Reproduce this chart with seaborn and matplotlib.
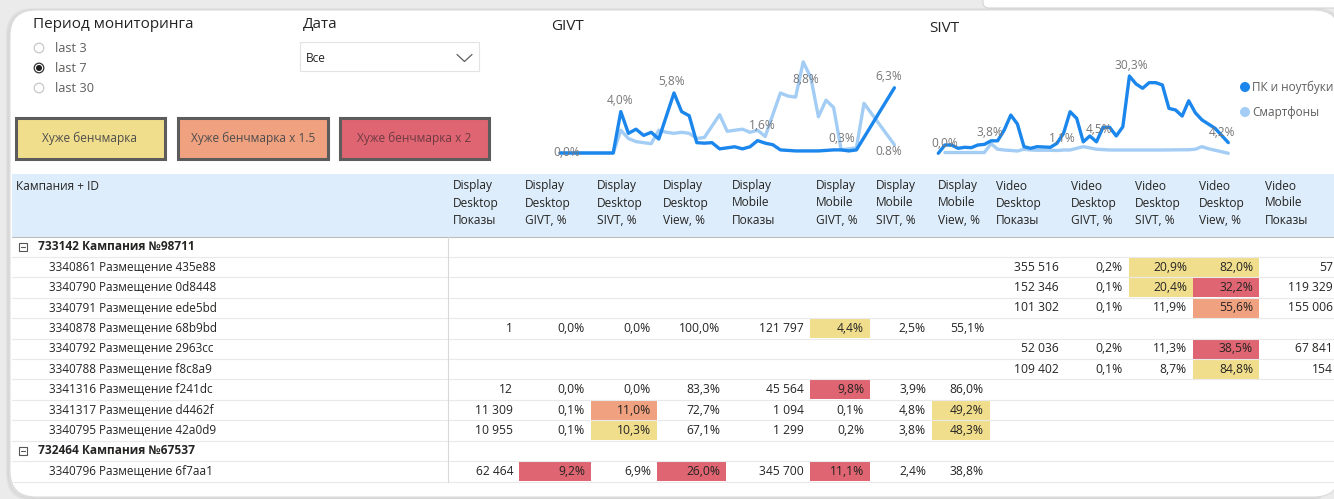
import matplotlib
matplotlib.use("Agg")
import matplotlib.pyplot as plt
from matplotlib.patches import FancyBboxPatch, Rectangle, Circle
import seaborn as sns
import pandas as pd

# ---------------- data ----------------
devices = ["ПК и ноутбуки", "Смартфоны"]

givt_pc_day = [0, 1, 2, 3, 4, 5, 6, 7, 8, 9, 10, 11, 12, 13, 15, 16, 17, 18, 19, 20, 21, 22, 23,
               24, 25, 26, 27, 28, 29, 30, 31, 32, 33, 34, 35, 36, 37, 38, 39, 44]
givt_pc_val = [0, 0, 0, 0, 0, 0, 0, 0, 4.0, 1.9, 2.3, 1.7, 2.0, 1.35, 5.8, 4.0, 3.6, 1.0, 0.95, 1.0,
               0.4, 0.5, 0.6, 0.4, 0.6, 1.2, 0.95, 0.8, 0.3, 0.25, 0.2, 0.2, 0.2, 0.2, 0.25, 0.3, 0.3,
               0.2, 0.3, 6.3]
givt_sp_day = [0, 7, 8, 9, 10, 11, 12, 13, 14, 15, 16, 17, 18, 19, 20, 21, 22, 23, 24, 25, 26, 27,
               28, 29, 30, 31, 32, 33, 34, 35, 36, 37, 38, 39, 40, 44]
givt_sp_val = [0, 0, 2.2, 1.4, 1.1, 1.0, 0.9, 2.2, 2.0, 1.9, 2.0, 1.9, 1.4, 1.5, 2.6, 3.7, 2.1, 2.2,
               2.3, 2.0, 2.2, 1.6, 3.7, 5.8, 5.5, 5.4, 8.8, 7.3, 3.5, 5.1, 4.4, 0.3, 0.4, 0.5, 4.8, 0.8]

sivt_pc_day = [0, 1, 2, 3, 4, 5, 6, 7, 8, 9, 10, 11, 12, 13, 14, 15, 17, 18, 19, 20, 21, 22, 23, 24,
               25, 26, 27, 28, 29, 30, 31, 32, 33, 34, 35, 36, 37, 38, 39, 40, 42, 44]
sivt_pc_val = [0, 3.25, 3.25, 1.96, 2.35, 2.2, 3.25, 3.5, 4.9, 4.9, 9.1, 15.0, 11.5, 2.6, 1.96, 2.6,
               2.35, 3.9, 7.8, 16.3, 13.7, 4.5, 6.8, 4.5, 10.2, 10.2, 6.8, 10.4, 30.3, 27.2, 25.5,
               27.7, 27.7, 26.8, 17.6, 17.0, 14.6, 20.6, 15.9, 13.1, 9.8, 4.2]
sivt_sp_day = [1, 7, 8, 9, 10, 12, 13, 14, 15, 17, 18, 19, 20, 22, 24, 26, 30, 34, 38, 39, 40, 41, 44]
sivt_sp_val = [0.3, 0.3, 3.8, 1.6, 1.3, 0.9, 1.6, 1.3, 1.2, 1.2, 1.1, 1.3, 1.3, 2.6, 1.6, 1.3, 1.3,
               1.3, 1.4, 1.6, 2.6, 1.8, 0.0]

# data labels: (series, day, text, dx_px, dy_px)
givt_labels = [("ПК и ноутбуки", 0, "0,0%", 7, -2), ("ПК и ноутбуки", 8, "4,0%", -1, -12),
               ("ПК и ноутбуки", 15, "5,8%", -2, -12), ("Смартфоны", 27, "1,6%", -3, -12),
               ("Смартфоны", 32, "8,8%", 3, 17), ("ПК и ноутбуки", 37, "0,3%", 1, -12),
               ("ПК и ноутбуки", 44, "6,3%", -6, -12), ("Смартфоны", 44, "0.8%", -6, 6)]
sivt_labels = [("ПК и ноутбуки", 0, "0,0%", 6, -11), ("Смартфоны", 8, "3,8%", -1, -12.5),
               ("Смартфоны", 18, "1,1%", 5, -13), ("ПК и ноутбуки", 24, "4,5%", 3, -13.5),
               ("ПК и ноутбуки", 29, "30,3%", 2, -12), ("ПК и ноутбуки", 44, "4,2%", -6, -11.5)]

period_options = ["last 3", "last 7", "last 30"]
period_selected = "last 7"
benchmark_labels = ["Хуже бенчмарка", "Хуже бенчмарка x 1.5", "Хуже бенчмарка x 2"]

col_headers = [("Display", "Desktop", "Показы"), ("Display", "Desktop", "GIVT, %"),
               ("Display", "Desktop", "SIVT, %"), ("Display", "Desktop", "View, %"),
               ("Display", "Mobile", "Показы"), ("Display", "Mobile", "GIVT, %"),
               ("Display", "Mobile", "SIVT, %"), ("Display", "Mobile", "View, %"),
               ("Video", "Desktop", "Показы"), ("Video", "Desktop", "GIVT, %"),
               ("Video", "Desktop", "SIVT, %"), ("Video", "Desktop", "View, %"),
               ("Video", "Mobile", "Показы")]
row_names = ["733142 Кампания №98711", "3340861 Размещение 435e88", "3340790 Размещение 0d8448",
             "3340791 Размещение ede5bd", "3340878 Размещение 68b9bd", "3340792 Размещение 2963cc",
             "3340788 Размещение f8c8a9", "3341316 Размещение f241dc", "3341317 Размещение d4462f",
             "3340795 Размещение 42a0d9", "732464 Кампания №67537", "3340796 Размещение 6f7aa1"]
row_is_group = [True, False, False, False, False, False, False, False, False, False, True, False]
E = ""
table_values = [
    [E] * 13,
    [E] * 8 + ["355 516", "0,2%", "20,9%", "82,0%", "57"],
    [E] * 8 + ["152 346", "0,1%", "20,4%", "32,2%", "119 329"],
    [E] * 8 + ["101 302", "0,1%", "11,9%", "55,6%", "155 006"],
    ["1", "0,0%", "0,0%", "100,0%", "121 797", "4,4%", "2,5%", "55,1%"] + [E] * 5,
    [E] * 8 + ["52 036", "0,2%", "11,3%", "38,5%", "67 841"],
    [E] * 8 + ["109 402", "0,1%", "8,7%", "84,8%", "154"],
    ["12", "0,0%", "0,0%", "83,3%", "45 564", "9,8%", "3,9%", "86,0%"] + [E] * 5,
    ["11 309", "0,1%", "11,0%", "72,7%", "1 094", "0,1%", "4,8%", "49,2%"] + [E] * 5,
    ["10 955", "0,1%", "10,3%", "67,1%", "1 299", "0,2%", "3,8%", "48,3%"] + [E] * 5,
    [E] * 13,
    ["62 464", "9,2%", "6,9%", "26,0%", "345 700", "11,1%", "2,4%", "38,8%"] + [E] * 5,
]
# (row, column, level) 1 = worse than benchmark, 2 = x1.5, 3 = x2
benchmark_flags = [(1, 10, 1), (1, 11, 1), (2, 10, 1), (2, 11, 3), (3, 11, 2), (4, 5, 1),
                   (5, 11, 3), (6, 11, 1), (7, 5, 3), (8, 2, 2), (8, 7, 1), (9, 2, 1), (9, 7, 1),
                   (11, 1, 3), (11, 3, 3), (11, 5, 3)]

# ---------------- style ----------------
sns.set_theme(style="white")
plt.rcParams['font.family'] = ['Open Sans', 'DejaVu Sans']

DARK = "#1B86EC"
LIGHT = "#A3CDF4"
palette = {"ПК и ноутбуки": DARK, "Смартфоны": LIGHT}
level_colors = {1: "#F1DE8D", 2: "#F0A17F", 3: "#DE6571"}
TXT = "#252423"
GREY = "#605E5C"

W, H = 1334, 499
fig = plt.figure(figsize=(W / 100, H / 100), dpi=100)
fig.patch.set_facecolor("#EBEBEB")

bg = fig.add_axes([0, 0, 1, 1])
bg.set_xlim(0, W)
bg.set_ylim(H, 0)
bg.axis("off")
bg.patch.set_alpha(0)

# other visual at top right
bg.add_patch(FancyBboxPatch((983, -40), 420, 48, boxstyle="round,pad=0,rounding_size=6",
                            fc="white", ec="#d4d4d4", lw=0.8))
# main card with soft shadow
for i, a in enumerate([0.05, 0.04, 0.03]):
    bg.add_patch(FancyBboxPatch((10 - i - 1, 10 - i + 1), 1330 + 2 * i + 2, 487 + 2 * i,
                                boxstyle="round,pad=0,rounding_size=26", fc="none",
                                ec=(0, 0, 0, a), lw=1.5))
bg.add_patch(FancyBboxPatch((10, 10), 1330, 487, boxstyle="round,pad=0,rounding_size=26",
                            fc="white", ec="#dcdcdc", lw=0.8))

# ---- slicers ----
bg.text(33, 24, "Период мониторинга", fontsize=11, color=TXT, va="center", ha="left")
for i, opt in enumerate(period_options):
    cy = 48 + i * 20
    if opt == period_selected:
        bg.add_patch(Circle((39, cy), 4.8, fc="white", ec="#333333", lw=0.9))
        bg.add_patch(Circle((39, cy), 3.0, fc="#1f1f1f", ec="none"))
    else:
        bg.add_patch(Circle((39, cy), 4.8, fc="white", ec="#c8c8c8", lw=0.9))
    bg.text(55, cy, opt, fontsize=9.2, color=GREY, va="center", ha="left")

bg.text(303, 24, "Дата", fontsize=11, color=TXT, va="center", ha="left")
bg.add_patch(Rectangle((299.5, 41.5), 179, 29, fc="white", ec="#e3e3e3", lw=0.8))
bg.text(306, 58, "Все", fontsize=8.6, color=TXT, va="center", ha="left")
bg.plot([457, 464.5, 472], [54.5, 61.5, 54.5], color=GREY, lw=0.9)

# ---- benchmark legend buttons ----
btn_boxes = [(15.5, 117.5, 149, 41), (178, 117.5, 150, 41), (340, 117.5, 149, 41)]
for (x, y, w, h), lab, lvl in zip(btn_boxes, benchmark_labels, [1, 2, 3]):
    bg.add_patch(Rectangle((x, y), w, h, fc=level_colors[lvl], ec="#5c5c5c", lw=2.2))
    bg.text(x + w / 2, y + h / 2, lab, fontsize=8.6, color="#4d4d4d" if lvl < 3 else "#6e3a42",
            va="center", ha="center")

# ---- line charts ----
def px_axes(x0, y0, x1, y1):
    return fig.add_axes([x0 / W, 1 - y1 / H, (x1 - x0) / W, (y1 - y0) / H])


def draw_chart(box, x0px, dxpx, y0px, dypx, pc_day, pc_val, sp_day, sp_val, labels, title, tx, ty):
    ax = px_axes(*box)
    ax.patch.set_alpha(0)
    df = pd.concat([
        pd.DataFrame({"day": pc_day, "value": pc_val, "device": devices[0]}),
        pd.DataFrame({"day": sp_day, "value": sp_val, "device": devices[1]}),
    ], ignore_index=True)
    sns.lineplot(data=df, x="day", y="value", hue="device", hue_order=[devices[1], devices[0]],
                 palette=palette, ax=ax, legend=False, linewidth=2.4, estimator=None,
                 solid_capstyle="round", solid_joinstyle="round")
    x0, y0, x1, y1 = box
    ax.set_xlim((x0 - x0px) / dxpx, (x1 - x0px) / dxpx)
    ax.set_ylim((y0px - y1) / dypx, (y0px - y0) / dypx)
    ax.axis("off")
    for ser, day, text, dx, dy in labels:
        d = df[(df.device == ser) & (df.day == day)]
        ax.annotate(text, (day, float(d.value.iloc[0])), xytext=(dx * 0.72, -(dy + 1) * 0.72),
                    textcoords="offset points", ha="center", va="center", fontsize=8.6,
                    color="#777777")
    bg.text(tx, ty, title, fontsize=11, color=TXT, va="center", ha="left")
    return ax


draw_chart((548, 40, 905, 165), 560, 7.6, 153, 10.35, givt_pc_day, givt_pc_val, givt_sp_day,
           givt_sp_val, givt_labels, "GIVT", 551, 26)
draw_chart((925, 40, 1240, 165), 938.3, 6.59, 153.3, 2.55, sivt_pc_day, sivt_pc_val, sivt_sp_day,
           sivt_sp_val, sivt_labels, "SIVT", 929, 28)

# legend
for i, dev in enumerate(devices):
    cy = 87 + i * 25
    bg.add_patch(Circle((1245, cy), 5, fc=palette[dev], ec="none"))
    bg.text(1252, cy, dev, fontsize=8.5, color=GREY, va="center", ha="left")

# ---- table ----
col_edges = [447, 519, 591, 657, 726, 810, 870, 932, 990, 1065, 1129, 1193, 1259, 1339]
head_top, head_bot = 174, 236.5
row_h = 20.42
bg.add_patch(Rectangle((12, head_top), 1340, head_bot - head_top, fc="#DEEDFB", ec="none"))
bg.plot([12, 1334], [head_bot, head_bot], color="#bdbdbd", lw=0.8)
bg.text(16, 186, "Кампания + ID", fontsize=8.6, color=TXT, va="center", ha="left")
for j, lines in enumerate(col_headers):
    for k, line in enumerate(lines):
        bg.text(col_edges[j] + 6, 186 + k * 17, line, fontsize=8.6, color=TXT,
                va="center", ha="left")

n_rows = len(row_names)
for r in range(n_rows):
    y_top = head_bot + r * row_h
    y_c = y_top + row_h / 2
    bg.plot([12, 1334], [y_top + row_h, y_top + row_h], color="#e9e9e9", lw=0.8)
    if row_is_group[r]:
        bg.add_patch(Rectangle((18.5, y_c - 4), 8, 8, fc="white", ec="#555555", lw=0.8))
        bg.plot([20.5, 24.5], [y_c, y_c], color="#555555", lw=0.8)
        bg.text(38, y_c, row_names[r], fontsize=8.6, fontweight="bold", color=TXT,
                va="center", ha="left")
    else:
        bg.text(49, y_c, row_names[r], fontsize=8.5, color=TXT, va="center", ha="left")

for r, c, lvl in benchmark_flags:
    y_top = head_bot + r * row_h
    bg.add_patch(Rectangle((col_edges[c], y_top + 0.5), col_edges[c + 1] - col_edges[c],
                           row_h - 1, fc=level_colors[lvl], ec="none"))

for r in range(n_rows):
    y_c = head_bot + r * row_h + row_h / 2
    for c, val in enumerate(table_values[r]):
        if val:
            bg.text(col_edges[c + 1] - 6, y_c, val, fontsize=8.7, color=TXT,
                    va="center", ha="right")

bg.plot([447.5, 447.5], [head_bot, head_bot + n_rows * row_h], color="#d9d9d9", lw=0.8)

fig.savefig("out.png", dpi=100, facecolor=fig.get_facecolor())
